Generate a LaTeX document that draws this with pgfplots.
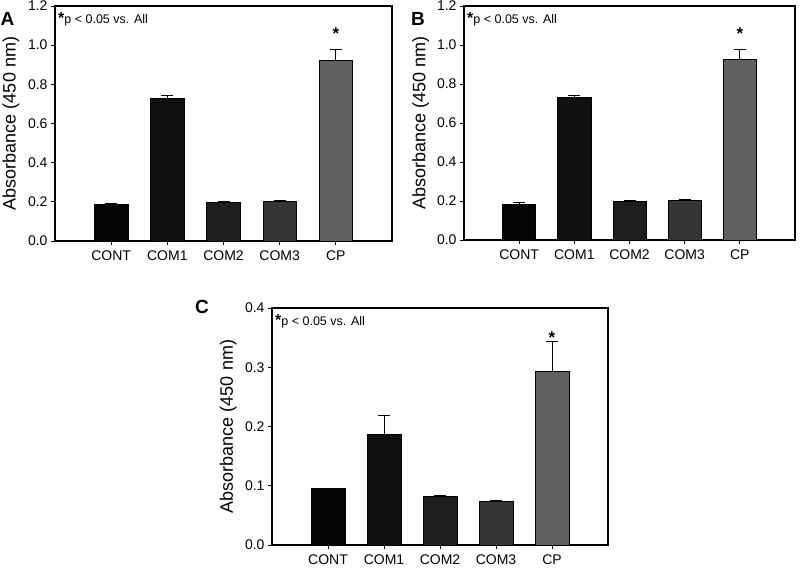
\documentclass[border=0pt]{standalone}
\usepackage{pgfplots}
\pgfplotsset{compat=1.18}
\usepackage{fontspec}
\setmainfont{Liberation Sans}
\definecolor{cCONT}{HTML}{050505}
\definecolor{cCOM1}{HTML}{101010}
\definecolor{cCOM2}{HTML}{1E1E1E}
\definecolor{cCOM3}{HTML}{353535}
\definecolor{cCP}{HTML}{606060}
\pgfplotsset{
  panel/.style={
    scale only axis,
    xmin=-1, xmax=5, ymin=0,
    xtick={0,1,2,3,4},
    xticklabels={CONT,COM1,COM2,COM3,CP},
    tick align=outside,
    xtick pos=left, ytick pos=left,
    major tick length=4pt,
    tick style={black, line width=0.8pt},
    axis line style={line width=1.1pt},
    ybar, bar width=0.6, bar shift=0pt,
    tick label style={font=\fontsize{14}{14}\selectfont},
    xticklabel style={yshift=-2pt},
    ylabel={Absorbance (450 nm)},
    every axis y label/.style={at={(axis description cs:-0.095,0.5)}, rotate=90, anchor=south, font=\fontsize{18}{18}\selectfont},
    /pgf/number format/assume math mode=true,
    yticklabel style={/pgf/number format/.cd, fixed, fixed zerofill, precision=1},
    error bars/y dir=plus,
    error bars/y explicit,
    error bars/error bar style={black, line width=0.8pt},
    error bars/error mark options={black, line width=0.8pt, mark size=6pt, rotate=90},
  },
  barst/.style={draw=black, line width=0.6pt, fill=#1},
}
\newcommand{\note}{\node[anchor=north west, inner sep=0pt, font=\fontsize{12.5}{12.5}\selectfont] at (rel axis cs:0,1) [xshift=3pt, yshift=-6pt] {{\bfseries\fontsize{16}{16}\selectfont *}p < 0.05 vs. All};}
\begin{document}
\begin{tikzpicture}
\path[use as bounding box] (0pt,0pt) rectangle (800pt,568pt);
% Panel A
\begin{axis}[panel, at={(55pt,327pt)}, anchor=south west, width=337pt, height=235pt, ymax=1.2, ytick={0,0.2,...,1.2}]
\addplot[barst=cCONT] coordinates {(0,0.185) +- (0,0.009)};
\addplot[barst=cCOM1] coordinates {(1,0.730) +- (0,0.013)};
\addplot[barst=cCOM2] coordinates {(2,0.200) +- (0,0.003)};
\addplot[barst=cCOM3] coordinates {(3,0.203) +- (0,0.004)};
\addplot[barst=cCP] coordinates {(4,0.924) +- (0,0.054)};
\node[anchor=north, inner sep=0pt, font=\bfseries\fontsize{17}{17}\selectfont] at (axis cs:4,1.088) {*};
\note
\end{axis}
\node[font=\bfseries\fontsize{19}{19}\selectfont] at (7.5pt,549pt) {A};
% Panel B
\begin{axis}[panel, at={(464pt,328pt)}, anchor=south west, width=331pt, height=234pt, ymax=1.2, ytick={0,0.2,...,1.2}]
\addplot[barst=cCONT] coordinates {(0,0.185) +- (0,0.009)};
\addplot[barst=cCOM1] coordinates {(1,0.730) +- (0,0.013)};
\addplot[barst=cCOM2] coordinates {(2,0.199) +- (0,0.003)};
\addplot[barst=cCOM3] coordinates {(3,0.202) +- (0,0.004)};
\addplot[barst=cCP] coordinates {(4,0.926) +- (0,0.053)};
\node[anchor=north, inner sep=0pt, font=\bfseries\fontsize{17}{17}\selectfont] at (axis cs:4,1.088) {*};
\note
\end{axis}
\node[font=\bfseries\fontsize{19}{19}\selectfont] at (418pt,549pt) {B};
% Panel C
\begin{axis}[panel, at={(272pt,23pt)}, anchor=south west, width=336pt, height=237pt, ymax=0.4, ytick={0,0.1,...,0.4}]
\addplot[barst=cCONT] coordinates {(0,0.095) +- (0,0.0)};
\addplot[barst=cCOM1] coordinates {(1,0.187) +- (0,0.031)};
\addplot[barst=cCOM2] coordinates {(2,0.083) +- (0,0.0015)};
\addplot[barst=cCOM3] coordinates {(3,0.074) +- (0,0.0015)};
\addplot[barst=cCP] coordinates {(4,0.293) +- (0,0.050)};
\node[anchor=north, inner sep=0pt, font=\bfseries\fontsize{17}{17}\selectfont] at (axis cs:4,0.360) {*};
\note
\end{axis}
\node[font=\bfseries\fontsize{19}{19}\selectfont] at (202pt,261pt) {C};
\end{tikzpicture}
\end{document}
